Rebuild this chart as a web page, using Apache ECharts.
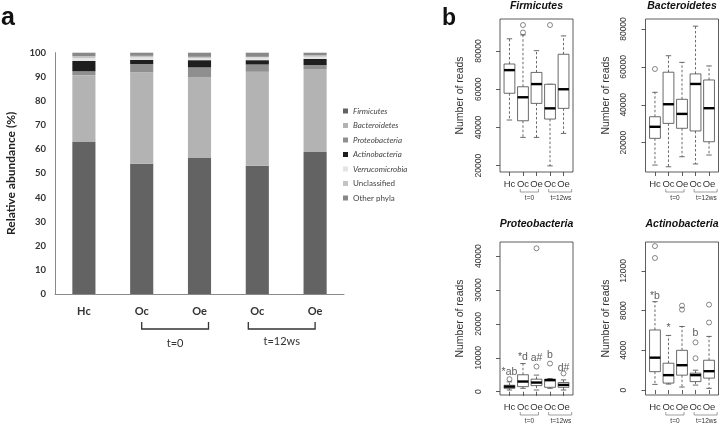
<!DOCTYPE html>
<html><head><meta charset="utf-8">
<script src="https://cdn.jsdelivr.net/npm/echarts@6/dist/echarts.min.js"></script>
<style>html,body{margin:0;padding:0;background:#fff}#c{width:719px;height:425px}</style>
</head><body><div id="c"></div>
<script>
// ---------- DATA ----------
const groupLabels = ['Hc', 'Oc', 'Oe', 'Oc', 'Oe'];
const groupKeys = ['Hc', 'Oc0', 'Oe0', 'Oc12', 'Oe12'];
const phyla = ['Firmicutes', 'Bacteroidetes', 'Proteobacteria', 'Actinobacteria', 'Verrucomicrobia', 'Unclassified', 'Other phyla'];
const italicPhyla = ['Firmicutes', 'Bacteroidetes', 'Proteobacteria', 'Actinobacteria', 'Verrucomicrobia'];
const abundanceTicks = [0, 10, 20, 30, 40, 50, 60, 70, 80, 90, 100];

const firmicutesPct      = [63.2, 54.0, 56.4, 53.2, 58.8];
const bacteroidetesPct   = [27.5, 37.9, 33.4, 38.9, 34.3];
const proteobacteriaPct  = [1.6, 3.4, 4.1, 3.0, 1.8];
const actinobacteriaPct  = [4.3, 1.7, 3.0, 1.8, 2.5];
const verrucomicrobiaPct = [1.2, 1.1, 0.9, 1.1, 0.9];
const unclassifiedPct    = [0.8, 0.6, 0.5, 0.3, 0.6];
const otherPhylaPct      = [1.4, 1.3, 1.7, 1.7, 1.1];

// box stats: [lower whisker, Q1, median, Q3, upper whisker] per group
const firmicutesBox = [[43900, 57900, 70000, 73200, 86400], [34800, 43500, 55800, 61300, 88400], [34800, 52600, 62700, 68800, 80200], [19900, 44400, 50000, 62600, 62600], [36900, 50000, 60000, 78300, 87900]];
const firmicutesOutliers = [[2, 93600], [2, 89700], [4, 93600]];
const firmicutesTicks = [20000, 40000, 60000, 80000];

const bacteroidetesBox = [[8200, 22300, 28400, 33700, 46600], [7300, 30200, 40300, 57200, 65900], [12600, 27600, 35200, 42900, 62400], [8800, 26200, 51000, 56300, 81500], [13500, 20500, 38200, 53100, 60500]];
const bacteroidetesOutliers = [[1, 58900]];
const bacteroidetesTicks = [20000, 40000, 60000, 80000];

const proteobacteriaBox = [[500, 1000, 1500, 1900, 2900], [1000, 1500, 3000, 5000, 8300], [500, 1800, 2700, 3700, 4900], [1000, 1300, 3400, 3700, 3900], [500, 1300, 2000, 2700, 3500]];
const proteobacteriaOutliers = [[1, 3700], [3, 7400], [3, 42300], [4, 8300], [5, 5400]];
const proteobacteriaTicks = [0, 10000, 20000, 30000, 40000];
const proteobacteriaNotes = [[1, 5800, '*ab'], [2, 10100, '*d'], [3, 9800, 'a#'], [4, 10900, 'b'], [5, 7100, 'd#']];

const actinobacteriaBox = [[570, 1850, 3260, 6050, 8900], [600, 700, 1500, 2700, 5500], [300, 1500, 2500, 4000, 6400], [500, 850, 1500, 1700, 2000], [170, 1200, 1900, 3000, 5400]];
const actinobacteriaOutliers = [[1, 14500], [1, 13300], [3, 8500], [3, 8100], [4, 4800], [4, 3200], [5, 8600], [5, 6800]];
const actinobacteriaTicks = [0, 4000, 8000, 12000];
const actinobacteriaNotes = [[1, 9500, '*b'], [2, 6200, '*'], [4, 5750, 'b']];

// ---------- STYLE / LAYOUT ----------
const phylaColors = ['#636363', '#b3b3b3', '#8f8f8f', '#1e1e1e', '#e4e4e4', '#c4c4c4', '#888888'];
const FONT_R = '"Liberation Sans", Arial, sans-serif';
const FONT_A = 'Lato, "Open Sans", sans-serif';
const pctSeries = [firmicutesPct, bacteroidetesPct, proteobacteriaPct, actinobacteriaPct, verrucomicrobiaPct, unclassifiedPct, otherPhylaPct];

const panels = [
  {title: 'Firmicutes', box: firmicutesBox, out: firmicutesOutliers, ticks: firmicutesTicks, notes: [], min: 16700, max: 96750},
  {title: 'Bacteroidetes', box: bacteroidetesBox, out: bacteroidetesOutliers, ticks: bacteroidetesTicks, notes: [], min: 4540, max: 85280},
  {title: 'Proteobacteria', box: proteobacteriaBox, out: proteobacteriaOutliers, ticks: proteobacteriaTicks, notes: proteobacteriaNotes, min: -970, max: 44160},
  {title: 'Actinobacteria', box: actinobacteriaBox, out: actinobacteriaOutliers, ticks: actinobacteriaTicks, notes: actinobacteriaNotes, min: -500, max: 14910}
];
const boxLayout = [
  {left: 500, top: 19, width: 73, height: 153, titleY: 6.5},
  {left: 645.5, top: 19, width: 73, height: 153, titleY: 6.5},
  {left: 500, top: 242, width: 73, height: 153, titleY: 224.5},
  {left: 645.5, top: 242, width: 73, height: 153, titleY: 224.5}
];

// ---------- OPTION ----------
const grids = [{left: 55, top: 52.7, width: 289, height: 241.3, show: false}];
const xAxes = [{
  gridIndex: 0, type: 'category', data: groupKeys,
  axisLine: {show: true, lineStyle: {color: '#8a8a8a', width: 1}},
  axisTick: {show: false},
  axisLabel: {formatter: (v, i) => groupLabels[i], margin: 12, fontSize: 11, fontWeight: 'bold', color: '#333', fontFamily: FONT_A}
}];
const yAxes = [{
  gridIndex: 0, type: 'value', min: 0, max: 100, interval: 10,
  axisLine: {show: true, lineStyle: {color: '#8a8a8a', width: 1}},
  axisTick: {show: false}, splitLine: {show: false},
  axisLabel: {margin: 9, fontSize: 9.5, fontWeight: 'bold', color: '#333', fontFamily: FONT_A},
  name: 'Relative abundance (%)', nameLocation: 'middle', nameGap: 38,
  nameTextStyle: {fontSize: 12, fontWeight: 'bold', color: '#222', fontFamily: FONT_A}
}];
const series = phyla.map((p, k) => ({
  type: 'bar', name: p, stack: 'abund', xAxisIndex: 0, yAxisIndex: 0,
  data: pctSeries[k], barWidth: '40%', itemStyle: {color: phylaColors[k]}, silent: true
}));

function renderBox(params, api) {
  const x = api.value(0);
  const pMin = api.coord([x, api.value(1)]);
  const pQ1 = api.coord([x, api.value(2)]);
  const pMed = api.coord([x, api.value(3)]);
  const pQ3 = api.coord([x, api.value(4)]);
  const pMax = api.coord([x, api.value(5)]);
  const hw = api.size([1, 0])[0] * 0.4;
  const cx = pMed[0];
  const thin = {stroke: '#444', lineWidth: 0.8};
  const dash = {stroke: '#444', lineWidth: 0.8, lineDash: [2.5, 2]};
  return {type: 'group', children: [
    {type: 'line', shape: {x1: cx, y1: pQ3[1], x2: cx, y2: pMax[1]}, style: dash},
    {type: 'line', shape: {x1: cx, y1: pQ1[1], x2: cx, y2: pMin[1]}, style: dash},
    {type: 'line', shape: {x1: cx - hw / 2, y1: pMax[1], x2: cx + hw / 2, y2: pMax[1]}, style: thin},
    {type: 'line', shape: {x1: cx - hw / 2, y1: pMin[1], x2: cx + hw / 2, y2: pMin[1]}, style: thin},
    {type: 'rect', shape: {x: cx - hw, y: pQ3[1], width: 2 * hw, height: pQ1[1] - pQ3[1]}, style: {fill: '#fff', stroke: '#444', lineWidth: 0.8}},
    {type: 'line', shape: {x1: cx - hw, y1: pMed[1], x2: cx + hw, y2: pMed[1]}, style: {stroke: '#000', lineWidth: 2.4}}
  ]};
}

panels.forEach((pn, i) => {
  const g = i + 1;
  const L = boxLayout[i];
  grids.push({left: L.left, top: L.top, width: L.width, height: L.height, show: true, borderColor: '#333', borderWidth: 0.8, backgroundColor: 'transparent'});
  xAxes.push({
    gridIndex: g, type: 'value', min: 0.3, max: 5.7,
    axisLine: {show: false}, splitLine: {show: false},
    axisTick: {show: true, length: 4, customValues: [1, 2, 3, 4, 5], lineStyle: {color: '#333', width: 0.8}},
    axisLabel: {customValues: [1, 2, 3, 4, 5], formatter: v => groupLabels[Math.round(v) - 1], margin: 7, fontSize: 9.5, color: '#333', fontFamily: FONT_R}
  });
  yAxes.push({
    gridIndex: g, type: 'value', min: pn.min, max: pn.max,
    axisLine: {show: false}, splitLine: {show: false},
    axisTick: {show: true, length: 4, customValues: pn.ticks, lineStyle: {color: '#333', width: 0.8}},
    axisLabel: {customValues: pn.ticks, rotate: 90, margin: 17, fontSize: 8.5, color: '#333', fontFamily: FONT_R, formatter: v => String(v)},
    name: 'Number of reads', nameLocation: 'middle', nameGap: 34,
    nameTextStyle: {fontSize: 10.5, color: '#333', fontFamily: FONT_R}
  });
  series.push({
    type: 'custom', xAxisIndex: g, yAxisIndex: g, silent: true,
    data: pn.box.map((b, k) => [k + 1].concat(b)),
    encode: {x: 0, y: [1, 2, 3, 4, 5]},
    renderItem: renderBox
  });
  series.push({
    type: 'scatter', xAxisIndex: g, yAxisIndex: g, silent: true, z: 5,
    data: pn.out, symbol: 'circle', symbolSize: 5,
    itemStyle: {color: 'rgba(0,0,0,0)', borderColor: '#444', borderWidth: 0.8}
  });
  if (pn.notes.length) {
    series.push({
      type: 'scatter', xAxisIndex: g, yAxisIndex: g, silent: true, z: 6,
      data: pn.notes.map(n => ({value: [n[0], n[1]], name: n[2]})),
      symbolSize: 1, itemStyle: {color: 'rgba(0,0,0,0)'},
      label: {show: true, position: 'inside', formatter: '{b}', fontSize: 10.5, color: '#333', fontFamily: FONT_R}
    });
  }
});

const option = {
  animation: false,
  backgroundColor: '#fff',
  grid: grids, xAxis: xAxes, yAxis: yAxes, series: series,
  legend: {
    data: phyla, orient: 'vertical', left: 338, top: 102,
    itemWidth: 5, itemHeight: 5, itemGap: 6.5, icon: 'rect',
    selectedMode: false,
    textStyle: {fontSize: 8, color: '#444', fontFamily: FONT_A,
      rich: {i: {fontStyle: 'italic', fontSize: 8, color: '#444', fontFamily: FONT_A}, n: {fontSize: 8, color: '#444', fontFamily: FONT_A}}},
    formatter: name => italicPhyla.indexOf(name) >= 0 ? '{i|' + name + '}' : '{n|' + name + '}'
  }
};

const chart = echarts.init(document.getElementById('c'));
chart.setOption(option);

// ---------- annotations (brackets, panel letters, titles) ----------
const gfx = [];
gfx.push({type: 'text', x: 1, y: 18.5, style: {text: 'a', font: 'bold 25px ' + FONT_R, fill: '#111', verticalAlign: 'middle'}});
gfx.push({type: 'text', x: 442, y: 18.5, style: {text: 'b', font: 'bold 23px ' + FONT_R, fill: '#111', verticalAlign: 'middle'}});

// panel a brackets
const ax = i => chart.convertToPixel({xAxisIndex: 0}, i);
const axisY = 294;
function bracket(x1, x2, yTop, yBot, color, w) {
  gfx.push({type: 'polyline', shape: {points: [[x1, yTop], [x1, yBot], [x2, yBot], [x2, yTop]]}, style: {stroke: color, lineWidth: w, fill: null}});
}
bracket(ax(1), ax(2) + 9, axisY + 28, axisY + 35, '#333', 1.3);
bracket(ax(3) - 9, ax(4), axisY + 28, axisY + 35, '#333', 1.3);
gfx.push({type: 'text', x: (ax(1) + ax(2) + 9) / 2, y: axisY + 49, style: {text: 't=0', font: '11px ' + FONT_A, fill: '#333', align: 'center', verticalAlign: 'middle'}});
gfx.push({type: 'text', x: (ax(3) - 9 + ax(4)) / 2, y: axisY + 47, style: {text: 't=12ws', font: '11px ' + FONT_A, fill: '#333', align: 'center', verticalAlign: 'middle'}});

panels.forEach((pn, i) => {
  const g = i + 1;
  const L = boxLayout[i];
  const bx = v => chart.convertToPixel({gridIndex: g}, [v, 0])[0];
  const bottom = L.top + L.height;
  gfx.push({type: 'text', x: L.left + L.width / 2, y: L.titleY, style: {text: pn.title, font: 'italic bold 10.5px ' + FONT_R, fill: '#111', align: 'center', verticalAlign: 'middle'}});
  bracket(bx(1.8), bx(3.15), bottom + 17, bottom + 20, '#777', 0.7);
  bracket(bx(3.9), bx(5.6), bottom + 17, bottom + 20, '#777', 0.7);
  gfx.push({type: 'text', x: bx(2.48), y: bottom + 26.5, style: {text: 't=0', font: '6.5px ' + FONT_R, fill: '#333', align: 'center', verticalAlign: 'middle'}});
  gfx.push({type: 'text', x: bx(4.8), y: bottom + 26.5, style: {text: 't=12ws', font: '6.5px ' + FONT_R, fill: '#333', align: 'center', verticalAlign: 'middle'}});
});
chart.setOption({graphic: {elements: gfx}});
</script>
</body></html>
